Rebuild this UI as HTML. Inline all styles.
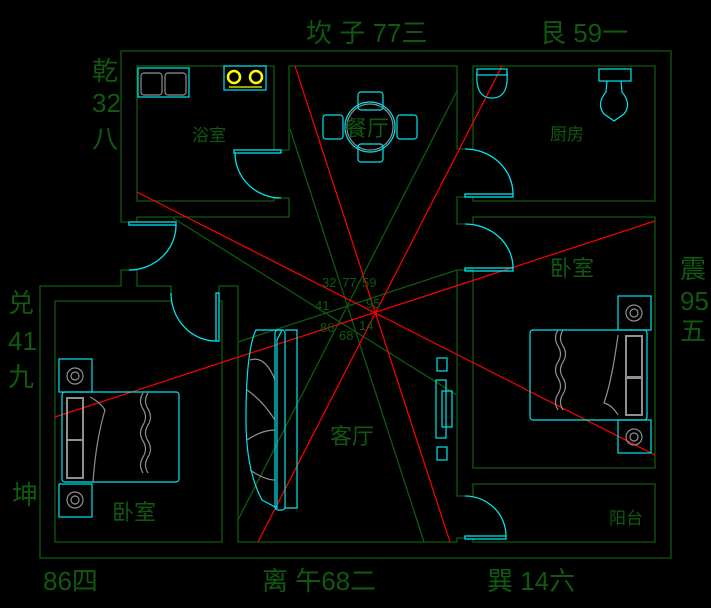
<!DOCTYPE html>
<html><head><meta charset="utf-8"><style>
html,body{margin:0;padding:0;background:#000;}
svg{display:block}
text{font-family:"Liberation Sans","Noto Sans CJK SC",sans-serif;fill:#0f5a0f;}
</style></head><body>
<svg width="711" height="608" viewBox="0 0 711 608" xmlns="http://www.w3.org/2000/svg">
<rect width="711" height="608" fill="#000"/>
<g fill="none" stroke="#0e5a0e" stroke-width="1.3">
<polyline points="129,222 121,222 121,51 671,51 671,558 40,558 40,286 121,286 121,270 137,270 137,286 171,286 171,295"/>
<polyline points="219,295 219,286 238,286 238,542 457,542 457,538 465,538"/>
<polyline points="274,150 274,66 137,66 137,201 274,201 274,198 281,198"/>
<polyline points="281,150 289,150 289,66 457,66 457,149 465,149"/>
<polyline points="281,198 289,198 289,217 137,217 137,222"/>
<polyline points="473,149 473,66 655,66 655,201 473,201 473,197 457,197 457,224 465,224"/>
<polyline points="473,224 473,217 655,217 655,468 473,468 473,270 465,270 457,270 457,496 465,496"/>
<polyline points="473,538 473,542 655,542 655,484 473,484 473,496"/>
<polyline points="171,301 55,301 55,542 222,542 222,301 219,301"/>
<line x1="290" y1="129" x2="424" y2="542"/>
<line x1="457" y1="91" x2="238" y2="520"/>
<line x1="173" y1="218" x2="457" y2="395"/>
<line x1="238" y1="342" x2="457" y2="270"/>
</g>
<g stroke="#ff0000" stroke-width="1.2">
<line x1="295" y1="66" x2="450" y2="542"/>
<line x1="502" y1="66" x2="258" y2="542"/>
<line x1="137" y1="192" x2="655" y2="455"/>
<line x1="55" y1="417" x2="655" y2="221"/>
</g>
<g fill="none" stroke="#00e5ee" stroke-width="1.3">
<rect x="234" y="150" width="47" height="3"/>
<path d="M235,153 A46,45 0 0 0 281,198"/>
<rect x="129" y="222" width="47" height="3"/>
<path d="M176,225 A47,45 0 0 1 129,270"/>
<rect x="465" y="194" width="48" height="3"/>
<path d="M465,149 A48,45 0 0 1 513,194"/>
<rect x="465" y="268" width="48" height="3"/>
<path d="M465,224 A48,44 0 0 1 513,268"/>
<rect x="465" y="536" width="41" height="3"/>
<path d="M465,496 A41,40 0 0 1 506,536"/>
<rect x="216" y="293" width="3" height="48"/>
<path d="M171,293 A45,48 0 0 0 216,341"/>
</g>
<g fill="none" stroke-width="1.2">
<rect x="138" y="68" width="51" height="29" stroke="#00e5ee"/>
<rect x="141" y="73" width="21" height="22" rx="3" stroke="#909090"/>
<rect x="165" y="73" width="21" height="22" rx="3" stroke="#909090"/>
<rect x="224" y="66" width="42" height="24" stroke="#00e5ee"/>
<circle cx="234" cy="77" r="6" stroke="#ffff00" stroke-width="2.5"/>
<circle cx="256" cy="77" r="6" stroke="#ffff00" stroke-width="2.5"/>
<line x1="229" y1="87" x2="262" y2="87" stroke="#ffff00"/>
<circle cx="370" cy="127" r="25" stroke="#00e5ee"/>
<circle cx="370" cy="127" r="23" stroke="#909090"/>
<rect x="358" y="92" width="25" height="18" rx="3" stroke="#00e5ee"/>
<rect x="358" y="144" width="25" height="18" rx="3" stroke="#00e5ee"/>
<rect x="323" y="115" width="20" height="24" rx="3" stroke="#00e5ee"/>
<rect x="397" y="115" width="20" height="24" rx="3" stroke="#00e5ee"/>
<rect x="477" y="69" width="30" height="6" stroke="#00e5ee"/>
<path d="M477,72 Q475,98 492,98 Q509,98 507,72" stroke="#00e5ee"/>
<rect x="599" y="69" width="32" height="12" stroke="#00e5ee"/>
<path d="M607,81 L606,92 Q596,104 604,114 L614,121 L624,114 Q632,104 622,92 L621,81" stroke="#00e5ee"/>
<rect x="530" y="330" width="117" height="90" rx="3" stroke="#00e5ee"/>
<rect x="618" y="296" width="33" height="34" stroke="#00e5ee"/>
<rect x="618" y="420" width="33" height="33" stroke="#00e5ee"/>
<circle cx="634" cy="313" r="8" stroke="#909090"/><circle cx="634" cy="313" r="4" stroke="#909090"/>
<circle cx="634" cy="437" r="8" stroke="#909090"/><circle cx="634" cy="437" r="4" stroke="#909090"/>
<rect x="626" y="336" width="16" height="42" stroke="#909090" stroke-width="2"/>
<rect x="626" y="377" width="16" height="38" stroke="#909090" stroke-width="2"/>
<path d="M558,330 q-5,8 0,16 q5,8 0,16 q-5,8 0,16 q5,8 0,16 q-5,8 0,16 M563,330 q-5,8 0,16 q5,8 0,16 q-5,8 0,16 q5,8 0,16 q-5,8 0,16" stroke="#909090"/>
<path d="M618,335 Q612,380 604,403 Q612,405 618,415" stroke="#909090"/>
<rect x="62" y="392" width="117" height="90" rx="3" stroke="#00e5ee"/>
<rect x="59" y="359" width="33" height="33" stroke="#00e5ee"/>
<rect x="59" y="484" width="33" height="33" stroke="#00e5ee"/>
<circle cx="75" cy="376" r="8" stroke="#909090"/><circle cx="75" cy="376" r="4" stroke="#909090"/>
<circle cx="75" cy="500" r="8" stroke="#909090"/><circle cx="75" cy="500" r="4" stroke="#909090"/>
<rect x="67" y="398" width="16" height="42" stroke="#909090" stroke-width="2"/>
<rect x="67" y="440" width="16" height="38" stroke="#909090" stroke-width="2"/>
<path d="M143,393 q-5,8 0,16 q5,8 0,16 q-5,8 0,16 q5,8 0,16 q-5,8 0,16 M148,393 q-5,8 0,16 q5,8 0,16 q-5,8 0,16 q5,8 0,16 q-5,8 0,16" stroke="#909090"/>
<path d="M90,397 Q100,402 105,410 Q96,440 93,482" stroke="#909090"/>
<path d="M256,330 L282,330 L277,340 L277,508 L262,500 Q246,470 246,420 Q246,350 256,330 Z" stroke="#00e5ee"/>
<rect x="275" y="330" width="10" height="180" rx="3" stroke="#00e5ee"/>
<polyline points="285,330 297,330 297,508 285,508" stroke="#00e5ee"/>
<path d="M250,360 Q265,355 275,380 M247,390 Q262,400 275,420 M247,440 Q262,430 275,430 M250,470 Q265,480 275,480" stroke="#909090"/>
<rect x="437" y="358" width="10" height="13" stroke="#00e5ee"/>
<rect x="437" y="447" width="10" height="13" stroke="#00e5ee"/>
<rect x="436" y="380" width="10" height="58" stroke="#00e5ee"/>
<rect x="442" y="391" width="10" height="36" stroke="#00e5ee"/>
</g>
<g font-size="26">
<text x="306" y="42">坎 子 77三</text>
<text x="540" y="42">艮 59一</text>
<text x="92" y="80">乾</text>
<text x="92" y="112">32</text>
<text x="92" y="148">八</text>
<text x="8" y="312">兑</text>
<text x="8" y="350">41</text>
<text x="8" y="386">九</text>
<text x="680" y="278">震</text>
<text x="680" y="310">95</text>
<text x="680" y="340">五</text>
<text x="12" y="504">坤</text>
<text x="43" y="590">86四</text>
<text x="262" y="590">离 午68二</text>
<text x="487" y="590">巽 14六</text>
</g>
<g font-size="22">
<text x="345" y="136">餐厅</text>
<text x="550" y="276">卧室</text>
<text x="112" y="520">卧室</text>
<text x="330" y="444">客厅</text>
</g>
<g font-size="17">
<text x="192" y="141">浴室</text>
<text x="550" y="140">厨房</text>
<text x="609" y="524">阳台</text>
</g>
<g font-size="13">
<text x="322" y="287">32</text><text x="342" y="287">77</text><text x="362" y="287">59</text>
<text x="315" y="310">41</text><text x="366" y="308">95</text>
<text x="320" y="332">86</text><text x="339" y="340">68</text><text x="359" y="330">14</text>
</g>
</svg>
</body></html>
